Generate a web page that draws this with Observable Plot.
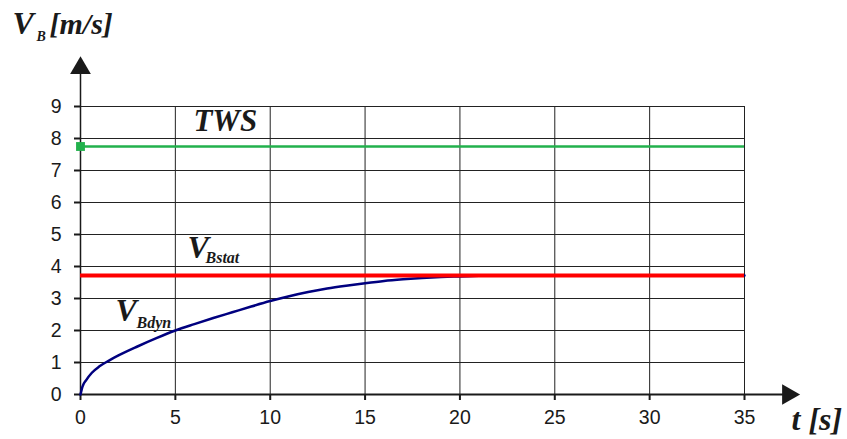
<!DOCTYPE html>
<html>
<head>
<meta charset="utf-8">
<script src="https://cdn.jsdelivr.net/npm/d3@7"></script>
<script src="https://cdn.jsdelivr.net/npm/@observablehq/plot@0.6"></script>
<style>
  html, body { margin: 0; padding: 0; background: #fff; }
  #chart svg { display: block; }
</style>
</head>
<body>
<div id="chart"></div>
<script>
// ---- data ----
const tValues = [0, 0.1, 0.3, 0.6, 1, 1.5, 2, 3, 4, 5, 6, 7, 8, 9, 10, 11, 12, 13, 14, 15, 16, 17, 18, 19, 20, 21, 22, 23, 25, 30, 35];
const vBdyn   = [0, 0.24, 0.45, 0.68, 0.88, 1.06, 1.22, 1.5, 1.76, 2.0, 2.2, 2.39, 2.57, 2.75, 2.92, 3.07, 3.2, 3.31, 3.4, 3.48, 3.55, 3.6, 3.64, 3.67, 3.69, 3.71, 3.72, 3.72, 3.72, 3.72, 3.72];
const vBstat = 3.72;
const tws = 7.75;
const xTicks = [0, 5, 10, 15, 20, 25, 30, 35];
const yTicks = [0, 1, 2, 3, 4, 5, 6, 7, 8, 9];

const dynData = tValues.map((t, i) => ({t, v: vBdyn[i]}));

const serif = "'Liberation Serif', 'Times New Roman', serif";
const sans = "'Liberation Sans', Arial, sans-serif";
const ink = "#1a1a1a";
const labelStyle = {fontFamily: serif, fontWeight: "bold", fontStyle: "italic", fill: ink, lineAnchor: "middle", textAnchor: "start"};

const plot = Plot.plot({
  width: 847,
  height: 439,
  marginLeft: 80,
  marginRight: 103,
  marginTop: 106,
  marginBottom: 45,
  style: {background: "#fff", overflow: "visible", fontFamily: sans},
  x: {domain: [0, 35], ticks: xTicks},
  y: {domain: [0, 9], ticks: yTicks},
  marks: [
    Plot.gridX(xTicks, {stroke: "#222", strokeOpacity: 1, strokeWidth: 1}),
    Plot.gridY(yTicks, {stroke: "#222", strokeOpacity: 1, strokeWidth: 1}),
    Plot.axisX(xTicks, {tickSize: 6, tickPadding: 10, fontSize: 19.5, stroke: ink, strokeWidth: 2, fill: ink, label: null, fontFamily: sans}),
    Plot.axisY(yTicks, {tickSize: 6, tickPadding: 13, fontSize: 19.5, stroke: ink, strokeWidth: 2, fill: ink, label: null, fontFamily: sans}),
    // axes with arrows
    Plot.ruleY([0], {x1: 0, x2: 37.1, stroke: ink, strokeWidth: 2, clip: false}),
    Plot.ruleX([0], {y1: 0, y2: 10.1, stroke: ink, strokeWidth: 1.5, clip: false}),
    Plot.dot([0], {x: 0, y: () => 10.2, symbol: "triangle", r: 7.7, fill: ink, stroke: null}),
    Plot.dot([0], {x: () => 37.3, y: 0, symbol: "triangle", r: 7.7, fill: ink, stroke: null, rotate: 90}),
    // series
    Plot.line(dynData, {x: "t", y: "v", stroke: "#00007f", strokeWidth: 2.5, curve: "monotone-x"}),
    Plot.ruleY([tws], {x1: 0, x2: 35, stroke: "#22b14c", strokeWidth: 2.5}),
    Plot.dot([tws], {x: 0, y: d => d, symbol: "square", r: 5, fill: "#22b14c", stroke: null}),
    Plot.ruleY([vBstat], {x1: 0, x2: 35, stroke: "#ff0000", strokeWidth: 4}),
    // in-plot labels
    Plot.text(["TWS"], {x: 5.95, y: 8.56, fontSize: 31, ...labelStyle}),
    Plot.text(["V"], {x: 5.64, y: 4.59, fontSize: 32, ...labelStyle}),
    Plot.text(["Bstat"], {x: 6.59, y: 4.27, fontSize: 16, ...labelStyle}),
    Plot.text(["V"], {x: 1.85, y: 2.63, fontSize: 32, ...labelStyle}),
    Plot.text(["Bdyn"], {x: 2.95, y: 2.25, fontSize: 16, ...labelStyle}),
    // axis titles
    Plot.text(["V"], {frameAnchor: "top-left", dx: -68, dy: -83, fontSize: 32, ...labelStyle}),
    Plot.text(["B"], {frameAnchor: "top-left", dx: -44, dy: -69.5, fontSize: 14, ...labelStyle}),
    Plot.text(["[m/s]"], {frameAnchor: "top-left", dx: -31, dy: -82, fontSize: 30, ...labelStyle}),
    Plot.text(["t [s]"], {frameAnchor: "bottom-right", dx: 47, dy: 25.5, fontSize: 32, ...labelStyle})
  ]
});
document.getElementById("chart").appendChild(plot);
</script>
</body>
</html>
